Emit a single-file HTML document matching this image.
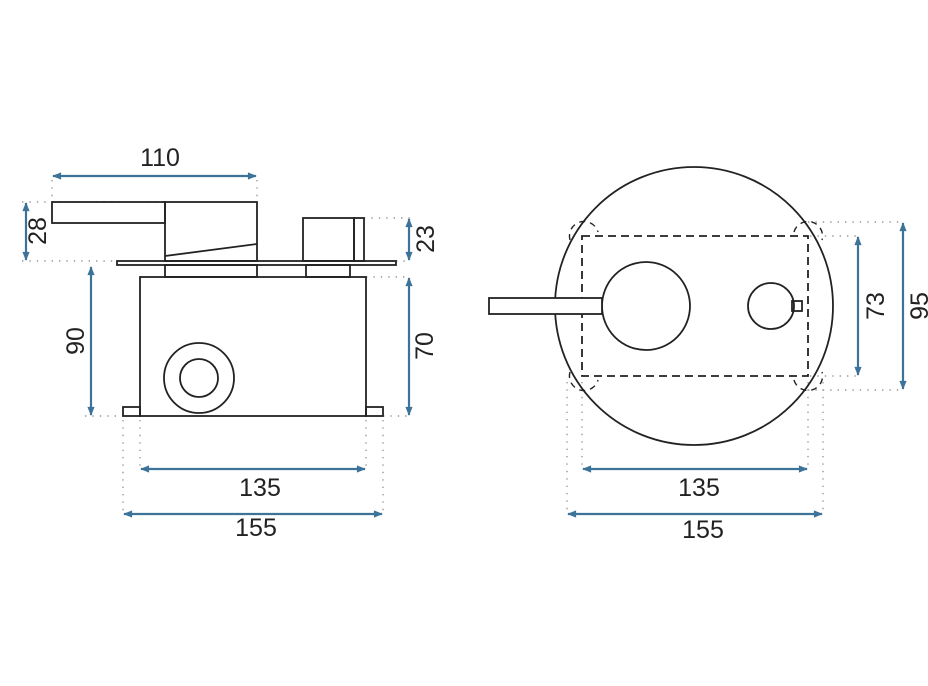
<!DOCTYPE html>
<html><head><meta charset="utf-8"><style>
html,body{margin:0;padding:0;background:#fff;}
svg{display:block;}
text{font-family:"Liberation Sans",sans-serif;font-size:25px;fill:#222;}
</style></head><body>
<svg width="928" height="686" viewBox="0 0 928 686" xmlns="http://www.w3.org/2000/svg">
<defs>
<marker id="a" viewBox="0 0 10 10" refX="9" refY="5" markerWidth="12" markerHeight="9" orient="auto-start-reverse" markerUnits="userSpaceOnUse"><path d="M0,1 L10,5 L0,9 Z" fill="#3d7399"/></marker>
</defs>
<g stroke="#999" stroke-width="1.4" stroke-dasharray="1.4,6" fill="none">
<path d="M52 180V200M257 180V200"/>
<path d="M22 202H165M22 261H117"/>
<path d="M364 218H410M396 261H410"/>
<path d="M366 277H410M85 416H123M383 416H410"/>
<path d="M123 420V514M140 420V469M366 420V469M383 420V514"/>
<path d="M808 222H903M810 236H858M810 376H858M808 390H903"/>
<path d="M567 382V514M582 382V469M808 382V469M823 382V514"/>
</g>
<g stroke="#222" stroke-width="1.8" fill="none">
<rect x="52" y="202" width="113" height="21"/>
<rect x="165" y="202" width="92" height="59"/>
<path d="M165 256L257 244"/>
<rect x="117" y="261" width="279" height="4"/>
<rect x="303" y="218" width="51" height="43"/>
<rect x="354" y="218" width="10" height="43"/>
<rect x="165" y="265" width="92" height="12"/>
<rect x="306" y="265" width="44" height="12"/>
<rect x="140" y="277" width="226" height="139"/>
<rect x="123" y="407" width="17" height="9"/>
<rect x="366" y="407" width="17" height="9"/>
<circle cx="199" cy="378" r="35"/>
<circle cx="199" cy="378" r="19"/>
<circle cx="694" cy="306" r="139"/>
<rect x="582" y="236" width="226" height="140" stroke-dasharray="8,5"/>
<circle cx="646" cy="306" r="44"/>
<rect x="489" y="298" width="113" height="16" fill="#fff"/>
<circle cx="771" cy="306" r="23"/>
<rect x="792" y="301" width="10" height="10"/>
<g stroke-dasharray="6,5" stroke-width="1.4">
<path d="M570 240A14 14 0 0 1 598 232"/>
<path d="M794 232A14 14 0 0 1 822 240"/>
<path d="M570 372A14 14 0 0 0 598 380"/>
<path d="M794 380A14 14 0 0 0 822 372"/>
</g>
</g>
<g stroke="#3d7399" stroke-width="2.2" fill="none" marker-start="url(#a)" marker-end="url(#a)">
<path d="M53 176H256"/>
<path d="M26 203V260"/>
<path d="M91 267V415"/>
<path d="M409 219V260"/>
<path d="M409 278V415"/>
<path d="M141 469H365"/>
<path d="M124 514H382"/>
<path d="M858 237V375"/>
<path d="M903 223V389"/>
<path d="M583 469H807"/>
<path d="M568 514H822"/>
</g>
<text x="160" y="166" text-anchor="middle">110</text>
<text x="260" y="496" text-anchor="middle">135</text>
<text x="256" y="536" text-anchor="middle">155</text>
<text x="699" y="496" text-anchor="middle">135</text>
<text x="703" y="538" text-anchor="middle">155</text>
<text transform="translate(46,231) rotate(-90)" text-anchor="middle">28</text>
<text transform="translate(84,341) rotate(-90)" text-anchor="middle">90</text>
<text transform="translate(434,239) rotate(-90)" text-anchor="middle">23</text>
<text transform="translate(433,346) rotate(-90)" text-anchor="middle">70</text>
<text transform="translate(884,306) rotate(-90)" text-anchor="middle">73</text>
<text transform="translate(928,306) rotate(-90)" text-anchor="middle">95</text>
</svg>
</body></html>
